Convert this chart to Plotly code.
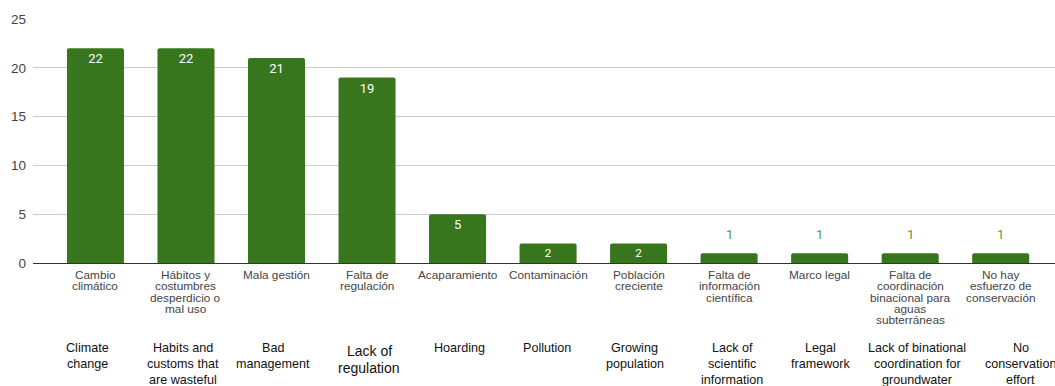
import plotly.graph_objects as go

# Causes of water problems: Spanish survey answers with English translations
labels_es = [
    "Cambio<br>climático",
    "Hábitos y<br>costumbres<br>desperdicio o<br>mal uso",
    "Mala gestión",
    "Falta de<br>regulación",
    "Acaparamiento",
    "Contaminación",
    "Población<br>creciente",
    "Falta de<br>información<br>científica",
    "Marco legal",
    "Falta de<br>coordinación<br>binacional para<br>aguas<br>subterráneas",
    "No hay<br>esfuerzo de<br>conservación",
]
labels_en = [
    "Climate<br>change",
    "Habits and<br>customs that<br>are wasteful",
    "Bad<br>management",
    "Lack of<br>regulation",
    "Hoarding",
    "Pollution",
    "Growing<br>population",
    "Lack of<br>scientific<br>information",
    "Legal<br>framework",
    "Lack of binational<br>coordination for<br>groundwater",
    "No<br>conservation<br>effort",
]
counts = [22, 22, 21, 19, 5, 2, 2, 1, 1, 1, 1]

BAR = "#38761d"
LABEL_FONT = "Liberation Sans, Arial, sans-serif"
positions = list(range(len(counts)))

# horizontal pixel nudges for the hand-placed English translation row
en_label_nudge = [-8, -3, -4, 2, 2, -1, -4, 3, 1, 7, 20]

inside_text = [str(v) if v >= 2 else "" for v in counts]

fig = go.Figure(
    go.Bar(
        x=positions,
        y=counts,
        marker=dict(color=BAR, line=dict(width=0)),
        text=inside_text,
        textposition="inside",
        insidetextanchor="end",
        textangle=0,
        insidetextfont=dict(family="Roboto", size=13, color="white"),
        hoverinfo="skip",
    )
)


def stacked_lines(i, text, first_offset, spacing, font, xshift=0):
    """One annotation per line so the leading can be tighter than Plotly's default."""
    out = []
    for k, line in enumerate(text.split("<br>")):
        out.append(dict(
            x=i, y=0, xref="x", yref="y", text=line, showarrow=False,
            yanchor="middle", yshift=-(first_offset + k * spacing),
            xshift=xshift, font=font,
        ))
    return out


annotations = []
for i, v in enumerate(counts):
    if v < 2:
        annotations.append(dict(
            x=i, y=v, xref="x", yref="y", text=str(v), showarrow=False,
            yshift=19, font=dict(family="Roboto", size=13, color="#5a9a3a"),
        ))
    annotations += stacked_lines(
        i, labels_es[i], 12, 11.3,
        dict(family=LABEL_FONT, size=11.8, color="#444444"),
    )
    en_size = 14 if i == 3 else 12.6
    en_first = 88 if i == 3 else 85
    en_gap = 17 if i == 3 else 16
    annotations += stacked_lines(
        i, labels_en[i], en_first, en_gap,
        dict(family=LABEL_FONT, size=en_size, color="#111111"),
        xshift=en_label_nudge[i],
    )

fig.update_layout(
    width=1055,
    height=386,
    margin=dict(l=33, r=0, t=19, b=123),
    paper_bgcolor="white",
    plot_bgcolor="white",
    bargap=0.37,
    barcornerradius=2,
    showlegend=False,
    annotations=annotations,
    xaxis=dict(
        range=[-0.69, 10.6],
        showticklabels=False,
        showgrid=False,
        zeroline=False,
        showline=False,
        fixedrange=True,
    ),
    yaxis=dict(
        range=[0, 25],
        tickvals=[0, 5, 10, 15, 20, 25],
        showgrid=True,
        gridcolor="#cccccc",
        gridwidth=1,
        zeroline=True,
        zerolinecolor="#333333",
        zerolinewidth=1,
        tickfont=dict(family=LABEL_FONT, size=13.5, color="#444444"),
        ticks="",
        ticklabelstandoff=6,
        fixedrange=True,
    ),
)

fig.write_html("out.html")
